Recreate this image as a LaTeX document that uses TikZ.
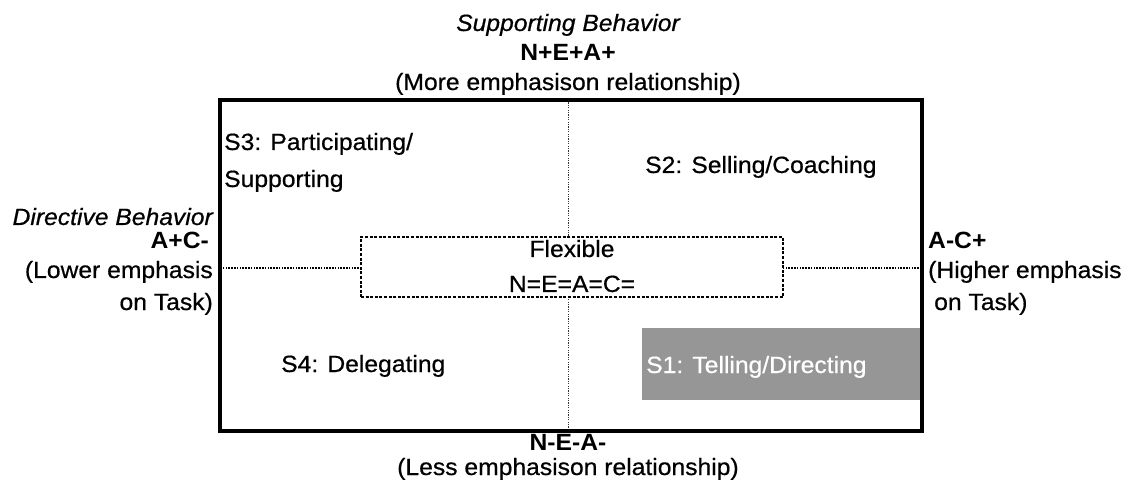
\documentclass[tikz,border=0pt]{standalone}
\usepackage{fontspec}
\setmainfont[FakeStretch=1.05,UprightFeatures={FakeBold=0.6},ItalicFeatures={FakeBold=0.6}]{Liberation Sans}
\definecolor{sgray}{HTML}{969696}
\newcommand\lblsize{\fontsize{23.5}{28}\selectfont}
\begin{document}
\begin{tikzpicture}[x=1pt,y=-1pt,
  lbl/.style={inner sep=0pt,font=\lblsize},
  axis/.style={line width=1.8pt,dash pattern=on 1.6pt off 1.2pt},
  vaxis/.style={line width=0.9pt,dash pattern=on 1.2pt off 1.2pt,black!80},
  flexbox/.style={draw,line width=2.6pt,dash pattern=on 3pt off 1.6pt,fill=white},
  frame/.style={line width=4pt},
]
\useasboundingbox (0,0) rectangle (1127,486);

% corners of the quadrant frame
\coordinate (tl) at (220,100);
\coordinate (br) at (922,431);
\coordinate (top) at (568,100);
\coordinate (bot) at (568,431);
\coordinate (lft) at (220,268);
\coordinate (rgt) at (922,268);

% S1 shaded region
\node[fill=sgray,inner sep=0pt,minimum width=278pt,minimum height=72pt,anchor=north west] (s1box) at (642,328) {};
\node[lbl,text=white,anchor=base west] (s1) at (646,373) {S1: Telling/Directing};

% axes
\draw[vaxis] (top) -- (bot);
\draw[axis] (lft) -- (rgt);

% central flexible style
\node[flexbox,minimum width=422pt,minimum height=60pt,inner sep=0pt] (flex) at (572,267) {};
\node[lbl,anchor=base] (flext) at (572,257) {Flexible};
\node[lbl,anchor=base] (flexn) at (572,292) {N=E=A=C=};

% frame
\draw[frame] (tl) rectangle (br);

% quadrant labels
\node[lbl,anchor=base west] (s3a) at (224,150) {S3: Participating/};
\node[lbl,anchor=base west] (s3b) at (224,187) {Supporting};
\node[lbl,anchor=base west] (s2) at (645,173) {S2: Selling/Coaching};
\node[lbl,anchor=base west] (s4) at (281,372) {S4: Delegating};

% top axis labels
\node[lbl,anchor=base,font=\lblsize\itshape] (sup) at (568,31) {Supporting Behavior};
\node[lbl,anchor=base,font=\lblsize\bfseries] (supp) at (568,61) {N+E+A+};
\node[lbl,anchor=base] (supt) at (568,90) {(More emphasison relationship)};

% bottom axis labels
\node[lbl,anchor=base,font=\lblsize\bfseries] (lowp) at (568,450) {N-E-A-};
\node[lbl,anchor=base] (lowt) at (568,475) {(Less emphasison relationship)};

% left axis labels
\node[lbl,anchor=base east,font=\lblsize\itshape] (dir) at (213,225) {Directive Behavior};
\node[lbl,anchor=base east,font=\lblsize\bfseries] (dirp) at (209,249) {A+C-};
\node[lbl,anchor=base east] (dirt1) at (213,278) {(Lower emphasis};
\node[lbl,anchor=base east] (dirt2) at (213,310) {on Task)};

% right axis labels
\node[lbl,anchor=base west,font=\lblsize\bfseries] (taskp) at (928,249) {A-C+};
\node[lbl,anchor=base west] (task1) at (928,278) {(Higher emphasis};
\node[lbl,anchor=base west] (task2) at (934,310) {on Task)};
\end{tikzpicture}
\end{document}
